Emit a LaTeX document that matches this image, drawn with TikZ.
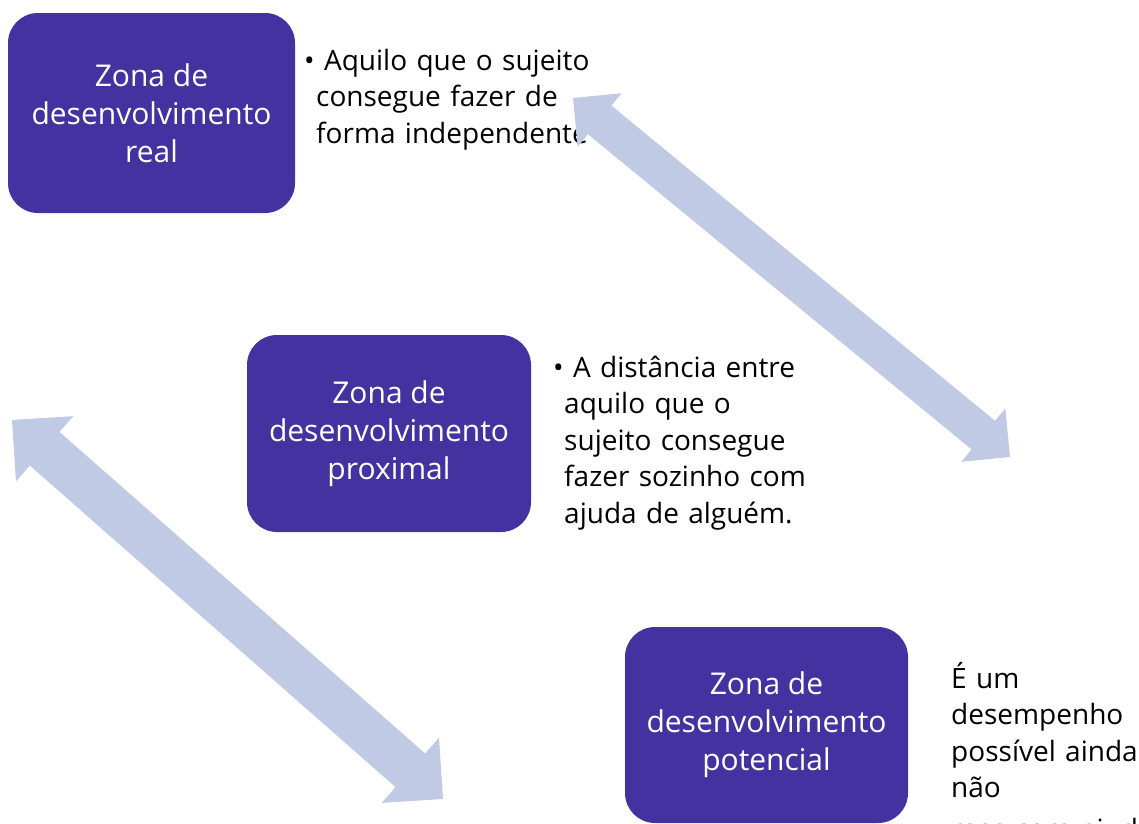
\documentclass[tikz,border=0pt]{standalone}
\usepackage{fontspec}
\setmainfont{Open Sans}
\usetikzlibrary{calc}
\definecolor{zonepurple}{HTML}{4432A0}
\definecolor{arrowblue}{HTML}{C0CAE4}
\tikzset{
  zonebox/.style={rounded corners=30pt, fill=zonepurple, text=white, align=center,
    inner sep=0pt, font=\fontsize{30}{38}\selectfont},
  sidetext/.style={text=black, align=left, inner sep=0pt, text width=320pt,
    anchor=base west, font=\fontsize{28}{36.5}\selectfont},
  arrowfill/.style={fill=arrowblue}
}
\newcommand\blockarrow[5]{%
  \coordinate (h1) at ($(#1)!#3!(#2)$);
  \coordinate (h2) at ($(#2)!#3!(#1)$);
  \fill[arrowfill] (#1) -- ($(h1)!#4!-90:(#2)$) -- ($(h1)!#5!-90:(#2)$)
    -- ($(h2)!#5!90:(#1)$) -- ($(h2)!#4!90:(#1)$) -- (#2)
    -- ($(h2)!#4!-90:(#1)$) -- ($(h2)!#5!-90:(#1)$)
    -- ($(h1)!#5!90:(#2)$) -- ($(h1)!#4!90:(#2)$) -- cycle;
}
\begin{document}
\begin{tikzpicture}[x=1pt,y=-1pt]
\useasboundingbox (0,0) rectangle (1139,823);

% boxes
\node[zonebox, minimum width=287pt, minimum height=200pt] (real) at (151.5,113)
  {Zona de\\desenvolvimento\\real};
\node[zonebox, minimum width=284pt, minimum height=197pt] (proximal) at (389,433.5)
  {Zona de\\desenvolvimento\\proximal};
\node[zonebox, minimum width=283pt, minimum height=196pt] (potencial) at (766.5,725)
  {Zona de\\desenvolvimento\\potencial};

% side texts
\node[sidetext] (treal) at (304,70)
  {\textbullet\ Aquilo que o sujeito\\\hspace*{12pt}consegue fazer de\\\hspace*{12pt}forma independente};
\node[sidetext] (tproximal) at (553,377)
  {\textbullet\ A distância entre\\\hspace*{11pt}aquilo que o\\\hspace*{11pt}sujeito consegue\\\hspace*{11pt}fazer sozinho com\\\hspace*{11pt}ajuda de alguém.};
\node[sidetext] (tpotencial) at (951,688)
  {É um\\desempenho\\possível ainda\\não\\[5pt]mas com ajuda};

% arrows
\coordinate (a1) at (573,98);
\coordinate (a2) at (1010,457);
\coordinate (b1) at (12,420);
\coordinate (b2) at (443,799);
\blockarrow{a1}{a2}{34.5pt}{34.6pt}{18.5pt}
\blockarrow{b1}{b2}{43.5pt}{43.4pt}{22.4pt}
\end{tikzpicture}
\end{document}
